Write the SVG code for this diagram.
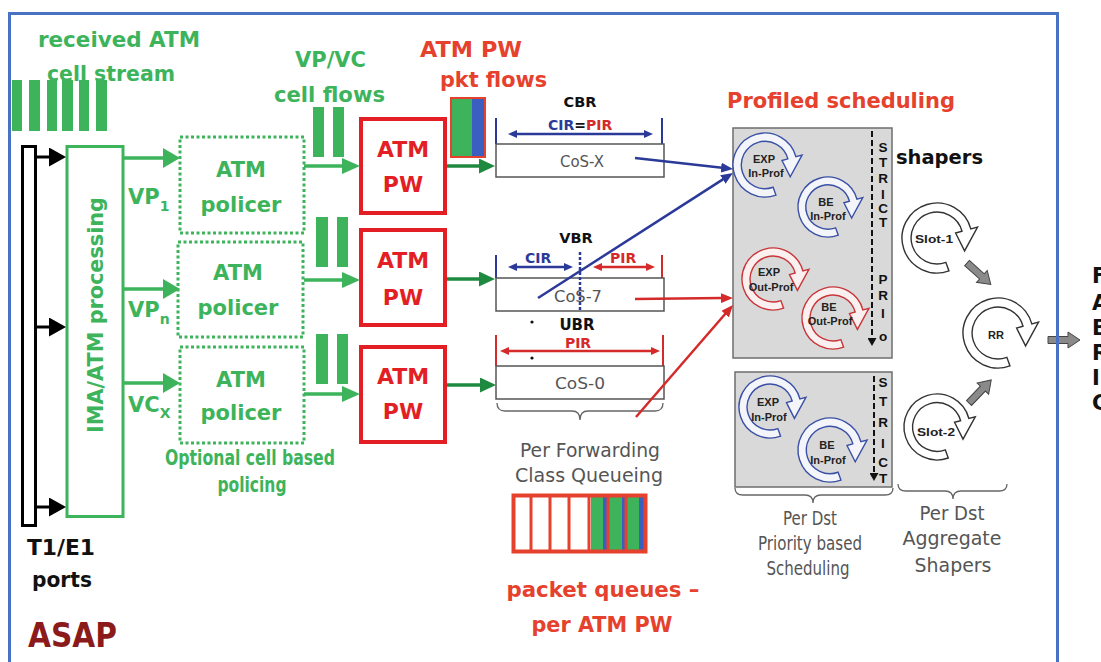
<svg xmlns="http://www.w3.org/2000/svg" width="1101" height="662" viewBox="0 0 1101 662">
<style>
.gt{font-family:"DejaVu Sans",sans-serif;font-weight:bold;fill:#3db45b;font-size:21px}
.rt{font-family:"DejaVu Sans",sans-serif;font-weight:bold;fill:#e5412d;font-size:21px}
.pwt{font-family:"DejaVu Sans",sans-serif;font-weight:bold;fill:#e31e24;font-size:22px;text-anchor:middle}
.bt{font-family:"DejaVu Sans",sans-serif;font-weight:bold;fill:#111}
.gray{font-family:"DejaVu Sans",sans-serif;fill:#555;font-size:20px;text-anchor:middle}
.cos{font-family:"DejaVu Sans",sans-serif;fill:#555;font-size:16px;text-anchor:middle}
.rl{font-family:"Liberation Sans",sans-serif;font-weight:bold;font-size:11px;fill:#222;text-anchor:middle}
.sl{font-family:"Liberation Sans",sans-serif;font-weight:bold;font-size:13.5px;fill:#111;text-anchor:middle;dominant-baseline:central}
.bar{fill:#3db45b}
.pol{fill:none;stroke:#3db45b;stroke-width:3;stroke-dasharray:3 2.5}
.pw{fill:#fff;stroke:#e31e24;stroke-width:4}
.cosbox{fill:#fff;stroke:#555;stroke-width:1.5}
.sched{fill:#d9d9d9;stroke:#6e6e6e;stroke-width:1.5}
.brace{fill:none;stroke:#666;stroke-width:1.3}
.rb{fill:#f3f5fb;stroke:#3a4fa6;stroke-width:1.4}
.rr{fill:#fbf0f0;stroke:#c8363a;stroke-width:1.4}
.rk{fill:#fff;stroke:#333;stroke-width:1.4}
.ba{fill:#8a8a8a;stroke:#444;stroke-width:1}
.blk{stroke:#000;stroke-width:3;fill:none}
.grn{stroke:#3db45b;stroke-width:3.5;fill:none}
.dgr{stroke:#1f8a3f;stroke-width:3.5;fill:none}
.blu{stroke:#2b3a98;stroke-width:2.5;fill:none}
.red{stroke:#d42a2a;stroke-width:2.5;fill:none}
.tickb{stroke:#2b3a98;stroke-width:2}
.tickr{stroke:#d42a2a;stroke-width:2}
</style>
<defs>
<marker id="mk" viewBox="0 0 17 19" markerWidth="17" markerHeight="19" refX="1" refY="9.5" orient="auto" markerUnits="userSpaceOnUse"><path d="M0,0 L17,9.5 L0,19 Z" fill="#000"/></marker>
<marker id="mg" viewBox="0 0 17 20" markerWidth="17" markerHeight="20" refX="1" refY="10" orient="auto" markerUnits="userSpaceOnUse"><path d="M0,0 L17,10 L0,20 Z" fill="#3db45b"/></marker>
<marker id="mg2" viewBox="0 0 18 16" markerWidth="18" markerHeight="16" refX="1" refY="8" orient="auto" markerUnits="userSpaceOnUse"><path d="M0,0 L18,8 L0,16 Z" fill="#3db45b"/></marker>
<marker id="md" viewBox="0 0 16 15" markerWidth="16" markerHeight="15" refX="1" refY="7.5" orient="auto" markerUnits="userSpaceOnUse"><path d="M0,0 L16,7.5 L0,15 Z" fill="#1f8a3f"/></marker>
<marker id="mb" viewBox="0 0 12 10" markerWidth="12" markerHeight="10" refX="1" refY="5" orient="auto" markerUnits="userSpaceOnUse"><path d="M0,0 L12,5 L0,10 Z" fill="#2b3a98"/></marker>
<marker id="mr" viewBox="0 0 12 10" markerWidth="12" markerHeight="10" refX="1" refY="5" orient="auto" markerUnits="userSpaceOnUse"><path d="M0,0 L12,5 L0,10 Z" fill="#d42a2a"/></marker>
<marker id="sb" viewBox="0 0 9 8" markerWidth="9" markerHeight="8" refX="1" refY="4" orient="auto-start-reverse" markerUnits="userSpaceOnUse"><path d="M0,0 L9,4 L0,8 Z" fill="#2b3a98"/></marker>
<marker id="sr" viewBox="0 0 9 8" markerWidth="9" markerHeight="8" refX="1" refY="4" orient="auto-start-reverse" markerUnits="userSpaceOnUse"><path d="M0,0 L9,4 L0,8 Z" fill="#d42a2a"/></marker>
<marker id="sk" viewBox="0 0 8 9" markerWidth="8" markerHeight="9" refX="1" refY="4.5" orient="auto" markerUnits="userSpaceOnUse"><path d="M0,0 L8,4.5 L0,9 Z" fill="#111"/></marker>
<path id="ca" vector-effect="non-scaling-stroke" d="M0.342,0.940 A1,1 0 1 1 0.966,-0.259 L1.159,-0.311 L0.788,0.368 L0.531,-0.142 L0.715,-0.192 A0.74,0.74 0 1 0 0.253,0.695 Z"/>
<path id="barr" d="M0,-3.5 L20,-3.5 L20,-8 L32,0 L20,8 L20,3.5 L0,3.5 Z"/>
</defs>

<rect x="0" y="0" width="1101" height="662" fill="#fff"/>

<g id="header-labels">
<text class="gt" x="38" y="47" textLength="162" lengthAdjust="spacingAndGlyphs">received ATM</text>
<text class="gt" x="47" y="81" textLength="128" lengthAdjust="spacingAndGlyphs">cell stream</text>
<text class="gt" x="295" y="67" textLength="71" lengthAdjust="spacingAndGlyphs">VP/VC</text>
<text class="gt" x="274" y="102" textLength="111" lengthAdjust="spacingAndGlyphs">cell flows</text>
<text class="rt" x="420" y="57" textLength="102" lengthAdjust="spacingAndGlyphs">ATM PW</text>
<text class="rt" x="440" y="87" textLength="107" lengthAdjust="spacingAndGlyphs">pkt flows</text>
<text class="rt" x="727" y="108" textLength="228" lengthAdjust="spacingAndGlyphs">Profiled scheduling</text>
<text class="bt" x="896" y="164" font-size="20" textLength="87" lengthAdjust="spacingAndGlyphs">shapers</text>
</g>

<g id="cell-stream">
<rect class="bar" x="12" y="80" width="10" height="51"/>
<rect class="bar" x="29" y="80" width="11" height="51"/>
<rect class="bar" x="47" y="80" width="10" height="51"/>
<rect class="bar" x="62" y="80" width="11" height="51"/>
<rect class="bar" x="79" y="80" width="10" height="51"/>
<rect class="bar" x="96" y="80" width="11" height="51"/>
</g>

<g id="ports">
<rect x="22.5" y="146.5" width="13" height="379" fill="#fff" stroke="#000" stroke-width="3"/>
<text class="bt" x="27" y="555" font-size="21" textLength="68" lengthAdjust="spacingAndGlyphs">T1/E1</text>
<text class="bt" x="32" y="587" font-size="21" textLength="60" lengthAdjust="spacingAndGlyphs">ports</text>
</g>

<g id="ima">
<rect x="67" y="146.5" width="56" height="370" fill="#fff" stroke="#3db45b" stroke-width="3"/>
<text class="gt" transform="translate(103,315) rotate(-90)" x="0" y="0" text-anchor="middle" textLength="236" lengthAdjust="spacingAndGlyphs">IMA/ATM processing</text>
</g>

<g id="vc-labels">
<text class="gt" x="128" y="204">VP<tspan font-size="14" dy="7">1</tspan></text>
<text class="gt" x="128" y="317">VP<tspan font-size="14" dy="7">n</tspan></text>
<text class="gt" x="128" y="412">VC<tspan font-size="14" dy="6">X</tspan></text>
</g>

<g id="policer1">
<rect class="pol" x="180" y="137" width="124" height="96"/>
<text class="gt" x="241" y="177" text-anchor="middle">ATM</text>
<text class="gt" x="241" y="212" text-anchor="middle">policer</text>
</g>
<g id="policer2">
<rect class="pol" x="178" y="242" width="125" height="95"/>
<text class="gt" x="238" y="280" text-anchor="middle">ATM</text>
<text class="gt" x="238" y="315" text-anchor="middle">policer</text>
</g>
<g id="policer3">
<rect class="pol" x="180" y="347" width="124" height="96"/>
<text class="gt" x="241" y="387" text-anchor="middle">ATM</text>
<text class="gt" x="241" y="420" text-anchor="middle">policer</text>
</g>
<g id="policing-note">
<text class="gt" x="250" y="465" font-size="14.5" text-anchor="middle" textLength="170" lengthAdjust="spacingAndGlyphs">Optional cell based</text>
<text class="gt" x="252" y="492" font-size="14.5" text-anchor="middle" textLength="69" lengthAdjust="spacingAndGlyphs">policing</text>
</g>

<g id="cell-flows">
<rect class="bar" x="313" y="107" width="11" height="50"/>
<rect class="bar" x="333" y="107" width="11" height="50"/>
<rect class="bar" x="316" y="217" width="12" height="50"/>
<rect class="bar" x="337" y="217" width="11" height="50"/>
<rect class="bar" x="316" y="334" width="12" height="50"/>
<rect class="bar" x="337" y="334" width="11" height="50"/>
</g>

<g id="pw1">
<rect class="pw" x="361" y="119" width="84" height="94"/>
<text class="pwt" x="403" y="157">ATM</text>
<text class="pwt" x="403" y="192">PW</text>
</g>
<g id="pw2">
<rect class="pw" x="361" y="230" width="84" height="95"/>
<text class="pwt" x="403" y="268">ATM</text>
<text class="pwt" x="403" y="305">PW</text>
</g>
<g id="pw3">
<rect class="pw" x="361" y="347" width="84" height="95"/>
<text class="pwt" x="403" y="384">ATM</text>
<text class="pwt" x="403" y="419">PW</text>
</g>

<g id="pkt-icon">
<rect x="452" y="99" width="20" height="57" fill="#3db45b"/>
<rect x="472" y="99" width="12" height="57" fill="#3a5fc0"/>
<rect x="451" y="98" width="34" height="59" fill="none" stroke="#e5412d" stroke-width="2"/>
</g>

<g id="cos-x">
<text class="bt" x="580" y="107" font-size="14.5" text-anchor="middle">CBR</text>
<text class="bt" x="548" y="130" font-size="14"><tspan fill="#2b3a98">CIR</tspan><tspan fill="#111">=</tspan><tspan fill="#d42a2a">PIR</tspan></text>
<line class="tickb" x1="496" y1="118" x2="496" y2="144"/>
<line class="tickb" x1="662" y1="118" x2="662" y2="144"/>
<line class="blu" x1="516" y1="134" x2="645" y2="134" stroke-width="2" marker-start="url(#sb)" marker-end="url(#sb)"/>
<rect class="cosbox" x="496" y="144" width="168" height="33"/>
<text class="cos" x="582" y="167" textLength="44" lengthAdjust="spacingAndGlyphs">CoS-X</text>
</g>

<g id="cos-7">
<text class="bt" x="576" y="243" font-size="14.5" text-anchor="middle">VBR</text>
<text class="bt" x="525" y="263" font-size="14" style="fill:#2b3a98">CIR</text>
<text class="bt" x="610" y="263" font-size="14" style="fill:#d42a2a">PIR</text>
<line class="tickb" x1="496" y1="255" x2="496" y2="278"/>
<line class="tickr" x1="662" y1="255" x2="662" y2="278"/>
<line class="blu" x1="516" y1="267" x2="565" y2="267" stroke-width="2" marker-start="url(#sb)" marker-end="url(#sb)"/>
<line class="red" x1="601" y1="267" x2="647" y2="267" stroke-width="2" marker-start="url(#sr)" marker-end="url(#sr)"/>
<rect class="cosbox" x="496" y="278" width="168" height="33"/>
<text class="cos" x="578" y="302" textLength="48" lengthAdjust="spacingAndGlyphs">CoS-7</text>
<line x1="580" y1="252" x2="580" y2="311" stroke="#2b3a98" stroke-width="2.5" stroke-dasharray="3 2"/>
</g>

<g id="cos-0">
<circle cx="532" cy="322" r="1.6" fill="#111"/>
<circle cx="532" cy="358" r="1.6" fill="#111"/>
<text class="bt" x="577" y="330" font-size="15" text-anchor="middle">UBR</text>
<text class="bt" x="578" y="348" font-size="14" text-anchor="middle" style="fill:#d42a2a">PIR</text>
<line class="tickr" x1="496" y1="335" x2="496" y2="366"/>
<line class="tickr" x1="663" y1="335" x2="663" y2="366"/>
<line class="red" x1="508" y1="351" x2="652" y2="351" stroke-width="2" marker-start="url(#sr)" marker-end="url(#sr)"/>
<rect class="cosbox" x="496" y="366" width="168" height="33"/>
<text class="cos" x="580" y="389" textLength="50" lengthAdjust="spacingAndGlyphs">CoS-0</text>
<path class="brace" d="M497,403 Q497,411 505,411 L572,411 Q580,411 580,420 Q580,411 588,411 L655,411 Q663,411 663,403"/>
<text class="gray" x="590" y="457" textLength="140" lengthAdjust="spacingAndGlyphs">Per Forwarding</text>
<text class="gray" x="589" y="482" textLength="148" lengthAdjust="spacingAndGlyphs">Class Queueing</text>
</g>

<g id="packet-queues">
<rect x="513" y="495" width="132" height="57" fill="#fff"/>
<rect x="591" y="497" width="12" height="53" fill="#3db45b"/>
<rect x="603" y="497" width="4" height="53" fill="#3a5fc0"/>
<rect x="609" y="497" width="13" height="53" fill="#3db45b"/>
<rect x="622" y="497" width="3" height="53" fill="#3a5fc0"/>
<rect x="627" y="497" width="12" height="53" fill="#3db45b"/>
<rect x="639" y="497" width="5" height="53" fill="#3a5fc0"/>
<g stroke="#e5412d" stroke-width="3">
<line x1="531" y1="495" x2="531" y2="552"/>
<line x1="550" y1="495" x2="550" y2="552"/>
<line x1="569" y1="495" x2="569" y2="552"/>
<line x1="589" y1="495" x2="589" y2="552"/>
<line x1="608" y1="495" x2="608" y2="552"/>
<line x1="626" y1="495" x2="626" y2="552"/>
</g>
<rect x="513.5" y="495.5" width="132" height="56" fill="none" stroke="#e5412d" stroke-width="4"/>
<text class="rt" x="603" y="597" text-anchor="middle" textLength="193" lengthAdjust="spacingAndGlyphs">packet queues –</text>
<text class="rt" x="602" y="632" text-anchor="middle" textLength="141" lengthAdjust="spacingAndGlyphs">per ATM PW</text>
</g>

<g id="sched-profiled">
<rect class="sched" x="733" y="128" width="159" height="230"/>
<line x1="872" y1="131" x2="872" y2="339" stroke="#111" stroke-width="2" stroke-dasharray="6 3" marker-end="url(#sk)"/>
<text class="sl" x="883" y="147">S</text><text class="sl" x="883" y="162">T</text><text class="sl" x="883" y="178">R</text><text class="sl" x="883" y="194">I</text><text class="sl" x="883" y="208">C</text><text class="sl" x="883" y="222">T</text>
<text class="sl" x="883" y="279">P</text><text class="sl" x="883" y="295">R</text><text class="sl" x="883" y="313">I</text><text class="sl" x="883" y="336">o</text>
<use href="#ca" class="rb" transform="translate(765,165) scale(32)"/>
<text class="rl" x="764" y="163">EXP</text><text class="rl" x="766" y="177">In-Prof</text>
<use href="#ca" class="rb" transform="translate(828,207) scale(30)"/>
<text class="rl" x="826" y="206">BE</text><text class="rl" x="828" y="220">In-Prof</text>
<use href="#ca" class="rr" transform="translate(773,279) scale(31)"/>
<text class="rl" x="769" y="276">EXP</text><text class="rl" x="771" y="291">Out-Prof</text>
<use href="#ca" class="rr" transform="translate(833,318) scale(31)"/>
<text class="rl" x="829" y="311">BE</text><text class="rl" x="830" y="325">Out-Prof</text>
</g>

<g id="sched-perdst">
<rect class="sched" x="735" y="372" width="157" height="115"/>
<line x1="874" y1="376" x2="874" y2="474" stroke="#111" stroke-width="2" stroke-dasharray="6 3" marker-end="url(#sk)"/>
<text class="sl" x="883" y="382">S</text><text class="sl" x="883" y="401">T</text><text class="sl" x="883" y="422">R</text><text class="sl" x="883" y="443">I</text><text class="sl" x="883" y="462">C</text><text class="sl" x="883" y="478">T</text>
<use href="#ca" class="rb" transform="translate(770,407) scale(31)"/>
<text class="rl" x="768" y="406">EXP</text><text class="rl" x="769" y="421">In-Prof</text>
<use href="#ca" class="rb" transform="translate(830,450) scale(32)"/>
<text class="rl" x="827" y="449">BE</text><text class="rl" x="828" y="464">In-Prof</text>
<path class="brace" d="M735,488 Q735,495 743,495 L805,495 Q813,495 813,503 Q813,495 821,495 L885,495 Q893,495 893,488"/>
<text class="gray" x="810" y="525" textLength="54" lengthAdjust="spacingAndGlyphs">Per Dst</text>
<text class="gray" x="810" y="550" textLength="104" lengthAdjust="spacingAndGlyphs">Priority based</text>
<text class="gray" x="808" y="575" textLength="83" lengthAdjust="spacingAndGlyphs">Scheduling</text>
</g>

<g id="slot1">
<use href="#ca" class="rk" transform="translate(937,238) scale(35)"/>
<text class="rl" x="934" y="243" font-size="12" textLength="38" lengthAdjust="spacingAndGlyphs">Slot-1</text>
</g>
<g id="slot2">
<use href="#ca" class="rk" transform="translate(937,427) scale(33)"/>
<text class="rl" x="936" y="436" font-size="12" textLength="38" lengthAdjust="spacingAndGlyphs">Slot-2</text>
</g>
<g id="rr">
<use href="#ca" class="rk" transform="translate(998,333) scale(35)"/>
<text class="rl" x="996" y="339">RR</text>
</g>
<g id="shaper-label">
<path class="brace" d="M898,484 Q898,491 906,491 L945,491 Q953,491 953,499 Q953,491 961,491 L999,491 Q1007,491 1007,484"/>
<text class="gray" x="952" y="520" textLength="65" lengthAdjust="spacingAndGlyphs">Per Dst</text>
<text class="gray" x="952" y="545" textLength="99" lengthAdjust="spacingAndGlyphs">Aggregate</text>
<text class="gray" x="953" y="572" textLength="77" lengthAdjust="spacingAndGlyphs">Shapers</text>
</g>

<g id="connectors">
<line class="blk" x1="37" y1="157" x2="50" y2="157" marker-end="url(#mk)"/>
<line class="blk" x1="37" y1="327" x2="50" y2="327" marker-end="url(#mk)"/>
<line class="blk" x1="37" y1="507" x2="50" y2="507" marker-end="url(#mk)"/>
<line class="grn" x1="124" y1="158" x2="164" y2="158" marker-end="url(#mg)"/>
<line class="grn" x1="124" y1="289" x2="164" y2="289" marker-end="url(#mg)"/>
<line class="grn" x1="124" y1="383" x2="164" y2="383" marker-end="url(#mg)"/>
<line class="grn" x1="304" y1="166" x2="343" y2="166" marker-end="url(#mg2)"/>
<line class="grn" x1="304" y1="280" x2="343" y2="280" marker-end="url(#mg2)"/>
<line class="grn" x1="304" y1="394" x2="343" y2="394" marker-end="url(#mg2)"/>
<line class="dgr" x1="447" y1="166" x2="480" y2="166" marker-end="url(#md)"/>
<line class="dgr" x1="447" y1="279" x2="480" y2="279" marker-end="url(#md)"/>
<line class="dgr" x1="447" y1="385" x2="481" y2="385" marker-end="url(#md)"/>
<line class="blu" x1="635" y1="158" x2="722.1" y2="167.8" marker-end="url(#mb)"/>
<line class="blu" x1="538" y1="298" x2="723.7" y2="178.9" marker-end="url(#mb)"/>
<line class="red" x1="635" y1="299" x2="722" y2="298.1" marker-end="url(#mr)"/>
<line class="red" x1="636" y1="417" x2="725.8" y2="313.3" marker-end="url(#mr)"/>
<use href="#barr" class="ba" transform="translate(967,263) rotate(42)"/>
<use href="#barr" class="ba" transform="translate(969,403) rotate(-46)"/>
<use href="#barr" class="ba" transform="translate(1048,340)"/>
</g>

<g id="frame">
<rect x="9.5" y="13.5" width="1048" height="670" fill="none" stroke="#4a72c4" stroke-width="3"/>
<text x="28" y="647" font-family="DejaVu Sans, sans-serif" font-weight="bold" font-size="33" fill="#8b1a1a" textLength="89" lengthAdjust="spacingAndGlyphs">ASAP</text>
</g>

<g id="fabric">
<text class="bt" x="1092" y="283" font-size="21">F</text>
<text class="bt" x="1092" y="310" font-size="21">A</text>
<text class="bt" x="1092" y="335" font-size="21">B</text>
<text class="bt" x="1092" y="360" font-size="21">R</text>
<text class="bt" x="1092" y="385" font-size="21">I</text>
<text class="bt" x="1092" y="410" font-size="21">C</text>
</g>
</svg>
